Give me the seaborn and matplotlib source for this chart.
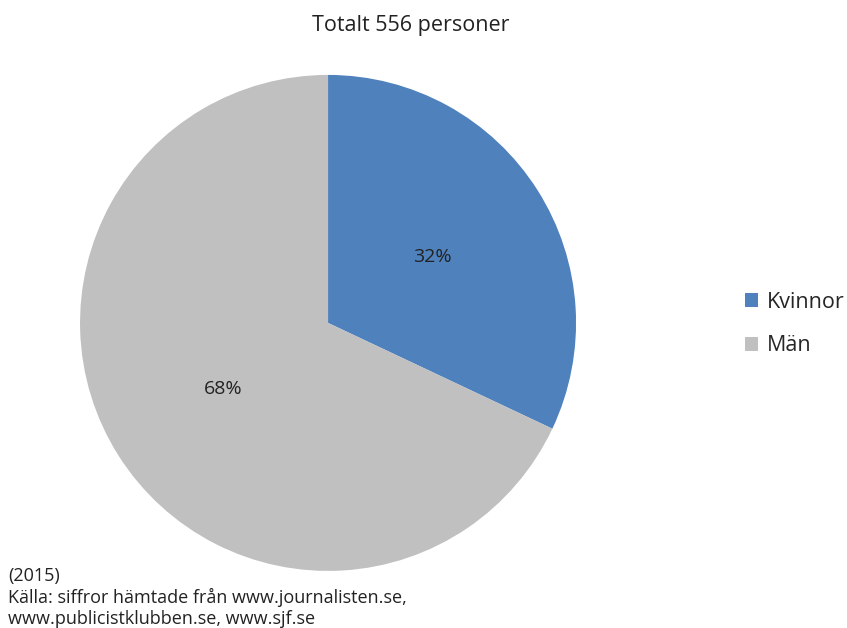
import matplotlib
matplotlib.use("Agg")
import matplotlib.pyplot as plt
import seaborn as sns

# data
categories = ["Kvinnor", "Män"]
counts = [178, 378]
title = "Totalt 556 personer"
source = "(2015)\nKälla: siffror hämtade från www.journalisten.se,\nwww.publicistklubben.se, www.sjf.se"

sns.set_style("white")
plt.rcParams["font.family"] = ["Open Sans", "DejaVu Sans"]

colors = ["#4F81BD", "#C0C0C0"]

fig = plt.figure(figsize=(8.47, 6.28), dpi=100)
ax = fig.add_axes([0.0945, 0.0908, 0.5856, 0.79])
wedges, texts, autotexts = ax.pie(
    counts, colors=colors, startangle=90, counterclock=False,
    autopct="%.0f%%", pctdistance=0.5,
    wedgeprops={"linewidth": 0},
    textprops={"fontsize": 14, "color": "#222222"},
)
ax.set_xlim(-1, 1)
ax.set_ylim(-1, 1)
ax.set_aspect("equal")

fig.text(0.485, 0.96, title, ha="center", va="center", fontsize=15.5, color="#222222")
fig.legend(wedges, categories, loc="center left", bbox_to_anchor=(0.869, 0.484),
           frameon=False, fontsize=15.5, handlelength=0.6, handleheight=0.6,
           labelspacing=1.05, handletextpad=0.45, borderaxespad=0)
fig.text(0.01, 0.0, source, ha="left", va="bottom", fontsize=13,
         color="#222222", linespacing=1.2)

fig.savefig("out.png", dpi=100)
